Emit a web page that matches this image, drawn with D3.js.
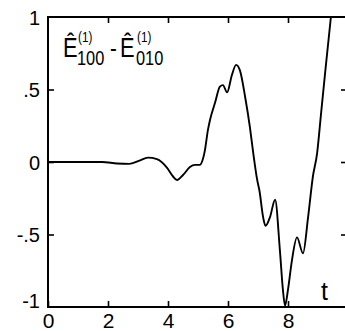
<!DOCTYPE html>
<html>
<head>
<meta charset="utf-8">
<script src="https://cdn.jsdelivr.net/npm/d3@7"></script>
<style>
  html, body { margin: 0; padding: 0; background: #fff; overflow: hidden; }
  svg { display: block; font-family: "Liberation Sans", Arial, sans-serif; }
</style>
</head>
<body>
<figure id="chart" style="margin:0"></figure>
<script>
// curve
const times = [0, 1, 1.8, 2.3, 2.7, 3.05, 3.33, 3.63, 3.97, 4.17, 4.3, 4.5, 4.73, 4.9, 5.07,
  5.13, 5.23, 5.33, 5.4, 5.57, 5.73, 5.83, 5.97, 6.13, 6.27, 6.4, 6.57, 6.73, 6.83, 6.97,
  7.05, 7.17, 7.25, 7.4, 7.57, 7.73, 7.83, 7.9, 8.0, 8.13, 8.3, 8.5, 8.67, 8.83, 8.97,
  9.1, 9.25, 9.43];
const values = [0, 0, 0, -0.01, -0.013, 0.01, 0.03, 0.02, -0.04, -0.1, -0.124, -0.09, -0.035, -0.02, -0.02,
  0, 0.08, 0.22, 0.29, 0.41, 0.52, 0.53, 0.48, 0.6, 0.67, 0.63, 0.45, 0.24, 0.08, -0.12,
  -0.2, -0.38, -0.44, -0.38, -0.26, -0.61, -0.88, -0.99, -0.88, -0.68, -0.52, -0.63, -0.38, -0.1, 0.06,
  0.33, 0.64, 1.0];

const xTicks = [0, 2, 4, 6, 8];
const xTickLabels = ['0', '2', '4', '6', '8'];
const yTicks = [-1, -0.5, 0, 0.5, 1];
const yTickLabels = ['-1', '-.5', '0', '.5', '1'];
const innerYTicks = [-0.5, 0, 0.5];

const margin = { left: 48, top: 17 };
const width = 300;
const height = 290;

const svg = d3.select('figure#chart')
  .append('svg')
  .attr('width', 345)
  .attr('height', 331);

const g = svg.append('g')
  .attr('transform', 'translate(' + margin.left + ',' + margin.top + ')');

const x = d3.scaleLinear().domain([0, 10]).range([0, width]);
const y = d3.scaleLinear().domain([-1, 1]).range([height, 0]);

// frame
g.append('rect')
  .attr('x', 0).attr('y', 0)
  .attr('width', width).attr('height', height)
  .attr('fill', 'none')
  .attr('stroke', '#000')
  .attr('stroke-width', 2);

// bottom axis, ticks pointing in
const bottomAxis = g.append('g')
  .attr('transform', 'translate(0,' + height + ')')
  .call(d3.axisBottom(x).tickValues(xTicks).tickSize(-6).tickPadding(6)
    .tickFormat((d, i) => xTickLabels[i]));
bottomAxis.select('.domain').remove();
bottomAxis.selectAll('line').attr('stroke-width', 1.6);
bottomAxis.selectAll('text').style('font-size', '21px').attr('fill', '#000');

// top axis, ticks only
const topAxis = g.append('g')
  .call(d3.axisTop(x).tickValues(xTicks.filter(d => d > 0)).tickSize(-6).tickFormat(''));
topAxis.select('.domain').remove();
topAxis.selectAll('line').attr('stroke-width', 1.6);

// left axis
const leftAxis = g.append('g')
  .call(d3.axisLeft(y).tickValues(yTicks).tickSize(-6).tickPadding(8)
    .tickFormat((d, i) => yTickLabels[i]));
leftAxis.select('.domain').remove();
leftAxis.selectAll('line').attr('stroke-width', 1.6)
  .attr('display', d => innerYTicks.includes(d) ? null : 'none');
leftAxis.selectAll('text').style('font-size', '20px').attr('fill', '#000')
  .attr('dy', d => d === -1 ? '0' : '0.35em');

// right axis, ticks only
const rightAxis = g.append('g')
  .attr('transform', 'translate(' + width + ',0)')
  .call(d3.axisRight(y).tickValues(innerYTicks).tickSize(-7).tickFormat(''));
rightAxis.select('.domain').remove();
rightAxis.selectAll('line').attr('stroke-width', 1.6);

// the curve
const line = d3.line()
  .x(d => x(d[0]))
  .y(d => y(d[1]))
  .curve(d3.curveMonotoneX);

g.append('path')
  .datum(times.map((t, i) => [t, values[i]]))
  .attr('d', line)
  .attr('fill', 'none')
  .attr('stroke', '#000')
  .attr('stroke-width', 1.9)
  .attr('stroke-linejoin', 'round');

// axis name
svg.append('text')
  .attr('x', 321).attr('y', 300)
  .style('font-size', '25px')
  .text('t');

// title: E^(1)_100 - E^(1)_010, drawn a bit condensed
const sx = 0.78;
const title = svg.append('g').attr('transform', 'scale(' + sx + ',1)');
const pieces = [
  { s: 'Ê', x: 63, y: 57, size: 28 },
  { s: '(1)', x: 78, y: 42, size: 15 },
  { s: '100', x: 77, y: 65, size: 21 },
  { s: '-', x: 110, y: 57, size: 26 },
  { s: 'Ê', x: 120, y: 57, size: 28 },
  { s: '(1)', x: 137, y: 42, size: 15 },
  { s: '010', x: 136, y: 65, size: 21 }
];
title.selectAll('text')
  .data(pieces)
  .enter()
  .append('text')
  .attr('x', d => d.x / sx)
  .attr('y', d => d.y)
  .style('font-size', d => d.size + 'px')
  .text(d => d.s);
</script>
</body>
</html>
